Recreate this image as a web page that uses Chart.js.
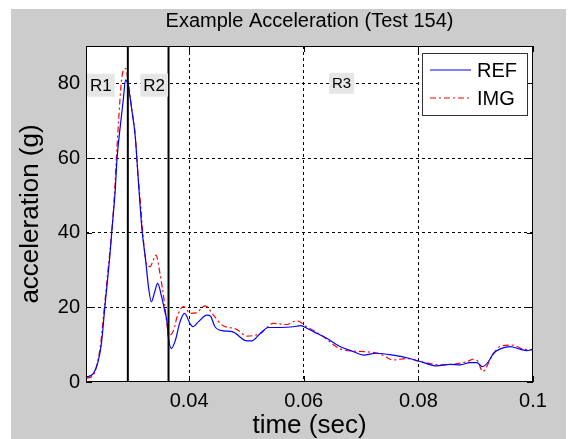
<!DOCTYPE html>
<html lang="en">
<head>
<meta charset="UTF-8">
<title>Example Acceleration (Test 154)</title>
<script src="https://cdn.jsdelivr.net/npm/chart.js"></script>
<style>
    body { margin: 0; padding: 0; background: #ffffff; }
    #accelChart { display: block; }
</style>
</head>
<body>
<canvas id="accelChart" width="576" height="439"></canvas>
<script>
// reference trace: time (sec) / acceleration (g)
const refTime = [0.0221, 0.0233, 0.0241, 0.0247, 0.0253, 0.0262, 0.0265, 0.0271, 0.0274, 0.0280,
    0.0285, 0.0289, 0.0294, 0.0300, 0.0306, 0.0310, 0.0314, 0.0318, 0.0324, 0.0329,
    0.0334, 0.0340, 0.0345, 0.0352, 0.0357, 0.0362, 0.0363, 0.0369, 0.0376, 0.0384,
    0.0392, 0.0402, 0.0407, 0.0416, 0.0431, 0.0437, 0.0445, 0.0460, 0.0475, 0.0501,
    0.0509, 0.0524, 0.0538, 0.0559, 0.0582, 0.0594, 0.0608, 0.0617, 0.0640, 0.0663,
    0.0687, 0.0704, 0.0727, 0.0756, 0.0785, 0.0809, 0.0832, 0.0855, 0.0873, 0.0890,
    0.0902, 0.0912, 0.0922, 0.0931, 0.0945, 0.0960, 0.0977, 0.0989, 0.1000];
const refAccel = [1.3, 2.3, 5.4, 10.4, 20.2, 34.5, 40.3, 51.4, 59.5, 68.8,
    75.5, 80.9, 79.0, 72.8, 65.7, 57.0, 48.0, 40.3, 32.7, 25.5,
    21.5, 24.2, 26.4, 22.8, 19.3, 15.3, 13.0, 9.0, 11.2, 16.1,
    18.4, 15.5, 14.8, 16.1, 17.9, 17.7, 14.8, 13.7, 13.5, 11.0,
    11.0, 13.0, 14.6, 14.6, 14.8, 15.1, 14.2, 13.5, 11.7, 9.5,
    8.1, 7.2, 7.7, 7.2, 6.3, 5.2, 4.3, 4.7, 4.6, 5.2,
    5.2, 4.1, 5.4, 7.7, 9.0, 9.5, 8.8, 8.4, 8.8];

// image-derived trace
const imgTime = [0.0221, 0.0233, 0.0241, 0.0245, 0.0252, 0.0259, 0.0265, 0.0270, 0.0273, 0.0277,
    0.0282, 0.0289, 0.0294, 0.0300, 0.0306, 0.0310, 0.0315, 0.0319, 0.0323, 0.0326,
    0.0332, 0.0337, 0.0342, 0.0349, 0.0357, 0.0361, 0.0365, 0.0373, 0.0379, 0.0390,
    0.0402, 0.0413, 0.0428, 0.0442, 0.0457, 0.0483, 0.0501, 0.0524, 0.0547, 0.0570,
    0.0588, 0.0605, 0.0628, 0.0669, 0.0710, 0.0733, 0.0756, 0.0780, 0.0803, 0.0838,
    0.0884, 0.0896, 0.0904, 0.0912, 0.0928, 0.0942, 0.0963, 0.0983, 0.1000];
const imgAccel = [1.0, 1.8, 6.0, 9.5, 20.0, 30.9, 40.3, 51.0, 60.0, 70.2,
    80.9, 84.0, 80.0, 73.0, 66.0, 57.0, 48.0, 40.0, 34.0, 31.3,
    30.9, 32.5, 34.0, 29.1, 21.1, 15.7, 12.5, 13.9, 17.5, 20.2,
    18.4, 18.6, 20.4, 18.0, 15.3, 14.1, 12.3, 13.0, 15.7, 15.4,
    16.4, 14.8, 12.8, 8.6, 8.1, 7.5, 5.9, 6.3, 5.5, 4.6,
    5.4, 6.1, 5.5, 2.8, 6.8, 9.5, 9.9, 8.8, 8.6];

// region boundaries and their labels
const regionBounds = [0.0293, 0.0364];
const regionNames = ['R1', 'R2', 'R3'];
const regionLabelTime = [0.0246, 0.0339, 0.0666];
const regionLabelAccel = [79.5, 79.5, 80];

const xTicks = [0.04, 0.06, 0.08, 0.1];
const yTicks = [0, 20, 40, 60, 80];

const FONT = 'Liberation Sans, Arial, Helvetica, sans-serif';

const toPoints = (t, g) => t.map((v, i) => ({ x: v, y: g[i] }));

// gray figure, white axes
const figureBackground = {
    id: 'figureBackground',
    beforeDraw(chart) {
        const { ctx, chartArea: a } = chart;
        ctx.save();
        ctx.fillStyle = '#ffffff';
        ctx.fillRect(0, 0, chart.width, chart.height);
        ctx.fillStyle = '#cccccc';
        ctx.fillRect(11, 9, 555, chart.height - 9);
        ctx.fillStyle = '#ffffff';
        ctx.fillRect(a.left, a.top, a.width, a.height);
        ctx.restore();
    }
};

// axes box, inward ticks, region tags and legend
const axesDecor = {
    id: 'axesDecor',
    afterDatasetsDraw(chart) {
        const { ctx, chartArea: a, scales: { x, y } } = chart;
        ctx.save();
        ctx.strokeStyle = '#000';
        ctx.lineWidth = 1;
        ctx.setLineDash([]);
        ctx.strokeRect(Math.round(a.left) + 0.5, Math.round(a.top) + 0.5,
            Math.round(a.width) - 1, Math.round(a.height) - 1);

        ctx.beginPath();
        xTicks.forEach(v => {
            const px = Math.round(x.getPixelForValue(v)) + 0.5;
            ctx.moveTo(px, a.bottom); ctx.lineTo(px, a.bottom - 6);
            ctx.moveTo(px, a.top); ctx.lineTo(px, a.top + 6);
        });
        yTicks.forEach(v => {
            const py = Math.round(y.getPixelForValue(v)) + 0.5;
            ctx.moveTo(a.left, py); ctx.lineTo(a.left + 6, py);
            ctx.moveTo(a.right, py); ctx.lineTo(a.right - 6, py);
        });
        ctx.stroke();

        // region tags
        ctx.textAlign = 'center';
        ctx.textBaseline = 'middle';
        regionNames.forEach((name, i) => {
            const px = x.getPixelForValue(regionLabelTime[i]);
            const py = y.getPixelForValue(regionLabelAccel[i]);
            const size = i < 2 ? 17 : 15;
            ctx.font = size + 'px ' + FONT;
            const w = ctx.measureText(name).width + 6;
            const h = size + 6;
            ctx.fillStyle = '#e6e6e6';
            ctx.fillRect(px - w / 2, py - h / 2, w, h);
            ctx.fillStyle = '#000';
            ctx.fillText(name, px, py + 1);
        });

        // legend
        const lw = 105, lh = 62;
        const lx = a.right - 6 - lw, ly = a.top + 7;
        ctx.fillStyle = '#ffffff';
        ctx.fillRect(lx, ly, lw, lh);
        ctx.strokeStyle = '#333';
        ctx.strokeRect(Math.round(lx) + 0.5, Math.round(ly) + 0.5, lw, lh);
        const entries = [
            { text: 'REF', color: '#0000ff', dash: [] },
            { text: 'IMG', color: '#ff0000', dash: [6, 3, 2, 3] }
        ];
        ctx.font = '20px ' + FONT;
        ctx.textAlign = 'left';
        entries.forEach((e, i) => {
            const ey = ly + 17 + i * 28;
            ctx.strokeStyle = e.color;
            ctx.lineWidth = 1.2;
            ctx.setLineDash(e.dash);
            ctx.beginPath();
            ctx.moveTo(lx + 8, ey); ctx.lineTo(lx + 49, ey);
            ctx.stroke();
            ctx.setLineDash([]);
            ctx.fillStyle = '#000';
            ctx.fillText(e.text, lx + 55, ey + 1);
        });
        ctx.restore();
    }
};

const datasets = regionBounds.map(t => ({
    data: [{ x: t, y: 0 }, { x: t, y: 90 }],
    borderColor: '#000000',
    borderWidth: 2,
    pointRadius: 0
}));
datasets.push({
    label: 'REF',
    data: toPoints(refTime, refAccel),
    borderColor: '#0000ff',
    borderWidth: 1.2,
    pointRadius: 0,
    cubicInterpolationMode: 'monotone'
});
datasets.push({
    label: 'IMG',
    data: toPoints(imgTime, imgAccel),
    borderColor: '#ff0000',
    borderWidth: 1.2,
    borderDash: [6, 3, 2, 3],
    pointRadius: 0,
    cubicInterpolationMode: 'monotone'
});

new Chart(document.getElementById('accelChart'), {
    type: 'line',
    data: { datasets },
    plugins: [figureBackground, axesDecor],
    options: {
        responsive: false,
        animation: false,
        layout: { padding: { left: 0, right: 43, top: 9, bottom: 0 } },
        plugins: {
            legend: { display: false },
            tooltip: { enabled: false },
            title: {
                display: true,
                text: 'Example Acceleration (Test 154)',
                color: '#000',
                fullSize: false,
                font: { family: FONT, size: 20, weight: 'normal', lineHeight: 1.2 },
                padding: { top: 0, bottom: 13 }
            }
        },
        scales: {
            x: {
                type: 'linear',
                min: 0.022,
                max: 0.1,
                afterBuildTicks: s => { s.ticks = xTicks.map(v => ({ value: v })); },
                afterFit: s => { s.height = 57; },
                grid: {
                    color: c => (c.tick && c.tick.value === 0.1) ? 'rgba(0,0,0,0)' : '#000',
                    lineWidth: 1,
                    drawTicks: false
                },
                border: { display: false, dash: [3, 3] },
                ticks: {
                    color: '#000',
                    font: { family: FONT, size: 20 },
                    padding: 7,
                    maxRotation: 0,
                    autoSkip: false,
                    callback: v => String(v)
                },
                title: {
                    display: true,
                    text: 'time (sec)',
                    color: '#000',
                    font: { family: FONT, size: 26, lineHeight: 1 },
                    padding: { top: 0, bottom: 0 }
                }
            },
            y: {
                min: 0,
                max: 90,
                afterBuildTicks: s => { s.ticks = yTicks.map(v => ({ value: v })); },
                afterFit: s => { s.width = 86; },
                grid: {
                    color: c => (c.tick && c.tick.value === 0) ? 'rgba(0,0,0,0)' : '#000',
                    lineWidth: 1,
                    drawTicks: false
                },
                border: { display: false, dash: [3, 3] },
                ticks: {
                    color: '#000',
                    font: { family: FONT, size: 20 },
                    padding: 6
                },
                title: {
                    display: true,
                    text: 'acceleration (g)',
                    color: '#000',
                    font: { family: FONT, size: 26, lineHeight: 1 },
                    padding: { top: 18, bottom: 0 }
                }
            }
        }
    }
});
</script>
</body>
</html>
